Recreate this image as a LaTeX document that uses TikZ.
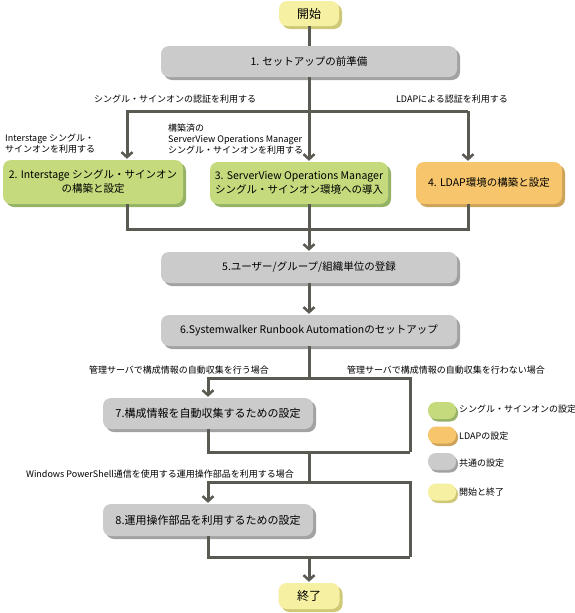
\documentclass[tikz,border=0pt]{standalone}
\usepackage{fontspec}
\setmainfont{Noto Sans CJK JP}
\usetikzlibrary{arrows.meta,shadows}
\definecolor{lineC}{HTML}{5A5A52}
\definecolor{gFill}{HTML}{C4DA7C}
\definecolor{gShd}{HTML}{95B266}
\definecolor{oFill}{HTML}{F6C56C}
\definecolor{oShd}{HTML}{CDA35A}
\definecolor{cFill}{HTML}{CBCBCB}
\definecolor{cShd}{HTML}{A2A2A2}
\definecolor{yFill}{HTML}{F5F0A2}
\definecolor{yShd}{HTML}{CFC977}
\begin{document}
\begin{tikzpicture}[x=1pt,y=-1pt,
  box/.style={rounded corners=8pt, align=center, inner sep=0pt,
    font=\fontsize{10.5}{14}\selectfont},
  greenbox/.style={box, fill=gFill, drop shadow={shadow xshift=3pt,shadow yshift=-3pt,fill=gShd,opacity=1}},
  orangebox/.style={box, fill=oFill, drop shadow={shadow xshift=3pt,shadow yshift=-3pt,fill=oShd,opacity=1}},
  graybox/.style={box, fill=cFill, drop shadow={shadow xshift=3pt,shadow yshift=-3pt,fill=cShd,opacity=1}},
  yellowbox/.style={box, fill=yFill, drop shadow={shadow xshift=3pt,shadow yshift=-3pt,fill=yShd,opacity=1}},
  conn/.style={draw=lineC, line width=3pt},
  arr/.style={conn, -{Straight Barb[length=5pt,width=11pt,line width=2.5pt]}, shorten >=1pt},
  lbl/.style={font=\fontsize{9}{11}\selectfont, inner sep=0pt},
  leg/.style={rounded corners=8pt, minimum width=28pt, minimum height=17pt, inner sep=0pt}
]
\useasboundingbox (0,0) rectangle (575,613);

% nodes
\node[yellowbox, minimum width=60pt, minimum height=25pt, font=\fontsize{12}{14}\selectfont] (start) at (309,13.5) {開始};
\node[graybox, minimum width=296pt, minimum height=31pt] (b1) at (309,61.5) {1. セットアップの前準備};
\node[greenbox, minimum width=180pt, minimum height=44pt] (b2) at (93,182) {2. Interstage シングル・サインオン\\の構築と設定};
\node[greenbox, minimum width=178pt, minimum height=42pt] (b3) at (299,183) {3. ServerView Operations Manager\\シングル・サインオン環境への導入};
\node[orangebox, minimum width=146pt, minimum height=42pt] (b4) at (489,183) {4. LDAP環境の構築と設定};
\node[graybox, minimum width=296pt, minimum height=31pt] (b5) at (309,267.5) {5.ユーザー/グループ/組織単位の登録};
\node[graybox, minimum width=296pt, minimum height=31pt] (b6) at (309,330.5) {6.Systemwalker Runbook Automationのセットアップ};
\node[graybox, minimum width=210pt, minimum height=31pt, font=\fontsize{11}{14}\selectfont] (b7) at (208,413.5) {7.構成情報を自動収集するための設定};
\node[graybox, minimum width=210pt, minimum height=32pt, font=\fontsize{11}{14}\selectfont] (b8) at (208,520) {8.運用操作部品を利用するための設定};
\node[yellowbox, minimum width=61pt, minimum height=26pt, font=\fontsize{12}{14}\selectfont] (end) at (309,596) {終了};

% labels
\node[lbl] (l1) at (175,99) {シングル・サインオンの認証を利用する};
\node[lbl] (l2) at (452,99) {LDAPによる認証を利用する};
\node[lbl, anchor=west, align=left] (l3) at (5,144) {Interstage シングル・\\サインオンを利用する};
\node[lbl, anchor=west, align=left] (l4) at (168,139) {構築済の\\ServerView Operations Manager\\シングル・サインオンを利用する};
\node[lbl] (l5) at (179,370) {管理サーバで構成情報の自動収集を行う場合};
\node[lbl] (l6) at (446,370) {管理サーバで構成情報の自動収集を行わない場合};
\node[lbl] (l7) at (160,474) {Windows PowerShell通信を使用する運用操作部品を利用する場合};

% coordinates
\coordinate (c2) at (127,111);
\coordinate (c4) at (468,111);
\coordinate (j2) at (127,229);
\coordinate (j4) at (468,229);
\coordinate (r1) at (410,378);
\coordinate (r2) at (410,452);
\coordinate (r3) at (410,482);
\coordinate (r4) at (410,557);
\coordinate (k1) at (309,378);
\coordinate (k2) at (309,452);
\coordinate (k3) at (309,482);
\coordinate (k4) at (309,557);

% connectors
\draw[conn] (start.south) -- (b1.north);
\draw[arr] (b1.south) -- (b1.south |- b3.north);
\draw[arr] (c4) -| (c2) -- (c2 |- b2.north);
\draw[arr] (c4) -- (c4 |- b4.north);
\draw[conn] (b2.south -| c2) -- (j2) -- (j4) -- (b4.south -| c4);
\draw[arr] (b3.south -| b1.south) -- (b5.north);
\draw[arr] (b5.south) -- (b6.north);
\draw[conn] (b6.south) -- (k1);
\draw[arr] (r2) -- (r1) -- (k1 -| b7.north) -- (b7.north);
\draw[conn] (b7.south) |- (r2);
\draw[conn] (k2) -- (k3);
\draw[arr] (r4) -- (r3) -- (k3 -| b8.north) -- (b8.north);
\draw[conn] (b8.south) |- (r4);
\draw[arr] (k4) -- (end.north);

% legend
\node[leg, fill=gFill, drop shadow={shadow xshift=2pt,shadow yshift=-2.5pt,fill=gShd,opacity=1}] (lg1) at (442,410.5) {};
\node[leg, fill=oFill, drop shadow={shadow xshift=2pt,shadow yshift=-2.5pt,fill=oShd,opacity=1}] (lg2) at (442,435) {};
\node[leg, fill=cFill, drop shadow={shadow xshift=2pt,shadow yshift=-2.5pt,fill=cShd,opacity=1}] (lg3) at (442,461.5) {};
\node[leg, fill=yFill, drop shadow={shadow xshift=2pt,shadow yshift=-2.5pt,fill=yShd,opacity=1}] (lg4) at (442,492) {};
\node[lbl, anchor=west] (t1) at (459,409) {シングル・サインオンの設定};
\node[lbl, anchor=west] (t2) at (459,436) {LDAPの設定};
\node[lbl, anchor=west] (t3) at (459,463) {共通の設定};
\node[lbl, anchor=west] (t4) at (459,492) {開始と終了};
\end{tikzpicture}
\end{document}
